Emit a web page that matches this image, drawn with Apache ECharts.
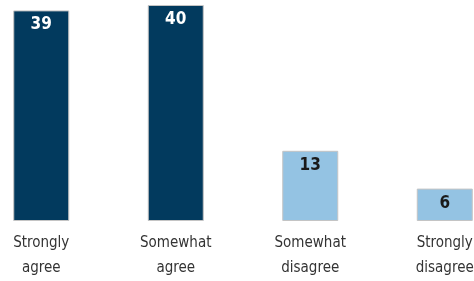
<!DOCTYPE html>
<html>
<head>
<meta charset="utf-8">
<script src="https://cdn.jsdelivr.net/npm/echarts@6/dist/echarts.min.js"></script>
<style>
  html, body { margin: 0; padding: 0; background: #fff; overflow: hidden; }
  /* the reference crops the outer bands, so the chart is wider than the window */
  #chart { width: 538px; height: 281px; margin-left: -26px; }
</style>
</head>
<body>
<div id="chart"></div>
<script>
const categories = ['Strongly\nagree', 'Somewhat\nagree', 'Somewhat\ndisagree', 'Strongly\ndisagree']
const values = [39, 40, 13, 6]
const barColors = ['#023a5e', '#023a5e', '#94c3e3', '#94c3e3']
const labelColors = ['#ffffff', '#ffffff', '#1a1a1a', '#1a1a1a']

const FONT = '"Liberation Sans Narrow", "DejaVu Sans Condensed", sans-serif'

const chart = echarts.init(document.getElementById('chart'))

const option = {
  animation: false,
  grid: { left: 0, right: 0, top: 5, bottom: 58 },
  xAxis: {
    type: 'category',
    data: categories,
    axisLine: { show: false },
    axisTick: { show: false },
    axisLabel: {
      color: '#333333',
      fontFamily: FONT,
      fontSize: 15,
      lineHeight: 25,
      margin: 10
    }
  },
  yAxis: {
    type: 'value',
    min: 0,
    max: 40,
    show: false,
    splitLine: { show: false }
  },
  series: [{
    type: 'bar',
    barWidth: 56,
    data: values.map((v, i) => ({
      value: v,
      itemStyle: { color: barColors[i] },
      label: { color: labelColors[i] }
    })),
    itemStyle: { borderColor: '#c4c4c4', borderWidth: 1 },
    label: {
      show: true,
      position: 'insideTop',
      distance: 6,
      fontFamily: FONT,
      fontWeight: 'bold',
      fontSize: 17
    }
  }]
}

chart.setOption(option)
</script>
</body>
</html>
